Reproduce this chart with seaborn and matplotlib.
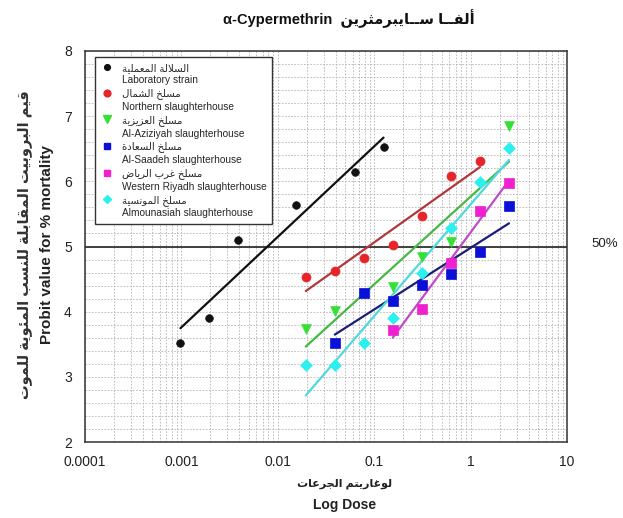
import numpy as np
import pandas as pd
import matplotlib
matplotlib.use("Agg")
import matplotlib.pyplot as plt
from matplotlib.lines import Line2D
from matplotlib.ticker import LogLocator, MultipleLocator, FixedLocator, NullFormatter
import seaborn as sns

# ---------------- data ----------------
lab_dose = [0.000977, 0.00195, 0.0039, 0.0156, 0.0625, 0.125]
lab_probit = [3.52, 3.90, 5.10, 5.64, 6.14, 6.53]

north_dose = [0.0195, 0.039, 0.078, 0.156, 0.3125, 0.625, 1.25]
north_probit = [4.53, 4.63, 4.83, 5.02, 5.47, 6.08, 6.31]

aziz_dose = [0.0195, 0.039, 0.156, 0.3125, 0.625, 2.5]
aziz_probit = [3.74, 4.01, 4.38, 4.84, 5.07, 6.85]

saad_dose = [0.039, 0.078, 0.156, 0.3125, 0.625, 1.25, 2.5]
saad_probit = [3.52, 4.29, 4.17, 4.41, 4.58, 4.92, 5.62]

west_dose = [0.156, 0.3125, 0.625, 1.25, 2.5]
west_probit = [3.72, 4.04, 4.75, 5.55, 5.98]

moun_dose = [0.0195, 0.039, 0.078, 0.156, 0.3125, 0.625, 1.25, 2.5]
moun_probit = [3.18, 3.18, 3.52, 3.90, 4.60, 5.29, 5.99, 6.51]

names_ar = ["السلالة المعملية", "مسلخ الشمال", "مسلخ العزيزية",
            "مسلخ السعادة", "مسلخ غرب الرياض", "مسلخ المونسية"]
names_en = ["Laboratory strain", "Northern slaughterhouse", "Al-Aziziyah slaughterhouse",
            "Al-Saadeh slaughterhouse", "Western Riyadh slaughterhouse",
            "Almounasiah slaughterhouse"]

x_ticks = [0.0001, 0.001, 0.01, 0.1, 1, 10]
x_tick_labels = ["0.0001", "0.001", "0.01", "0.1", "1", "10"]
y_ticks = [2, 3, 4, 5, 6, 7, 8]

title_en = "α-Cypermethrin"
title_ar = "ألفــا ســايبرمثرين"
ylabel_ar = "قيم البروبيت المقابلة للنسب المئوية للموت"
ylabel_en = "Probit value for % mortality"
xlabel_ar = "لوغاريتم الجرعات"
xlabel_en = "Log Dose"
ref_label = "50%"

# ---------------- simple Arabic shaping (presentation forms) ----------------
DUAL = {'ئ': 0xFE89, 'ب': 0xFE8F, 'ت': 0xFE95, 'ث': 0xFE99, 'ج': 0xFE9D, 'ح': 0xFEA1,
        'خ': 0xFEA5, 'س': 0xFEB1, 'ش': 0xFEB5, 'ص': 0xFEB9, 'ض': 0xFEBD, 'ط': 0xFEC1,
        'ظ': 0xFEC5, 'ع': 0xFEC9, 'غ': 0xFECD, 'ف': 0xFED1, 'ق': 0xFED5, 'ك': 0xFED9,
        'ل': 0xFEDD, 'م': 0xFEE1, 'ن': 0xFEE5, 'ه': 0xFEE9, 'ي': 0xFEF1}
RIGHT = {'آ': 0xFE81, 'أ': 0xFE83, 'ؤ': 0xFE85, 'إ': 0xFE87, 'ا': 0xFE8D, 'ة': 0xFE93,
         'د': 0xFEA9, 'ذ': 0xFEAB, 'ر': 0xFEAD, 'ز': 0xFEAF, 'و': 0xFEED, 'ى': 0xFEEF}
LAMALEF = {'آ': 0xFEF5, 'أ': 0xFEF7, 'إ': 0xFEF9, 'ا': 0xFEFB}
TATWEEL = 'ـ'


def _joins_next(t):
    return isinstance(t, str) and (t in DUAL or t == TATWEEL)


def _joins_prev(t):
    return isinstance(t, tuple) or (t in DUAL or t in RIGHT or t == TATWEEL)


def shape(text):
    toks = []
    i = 0
    while i < len(text):
        c = text[i]
        if c == 'ل' and i + 1 < len(text) and text[i + 1] in LAMALEF:
            toks.append(('LA', text[i + 1]))
            i += 2
        else:
            toks.append(c)
            i += 1
    out = []
    for k, t in enumerate(toks):
        prev = toks[k - 1] if k > 0 else None
        nxt = toks[k + 1] if k + 1 < len(toks) else None
        jp = prev is not None and _joins_next(prev)
        if isinstance(t, tuple):
            out.append(chr(LAMALEF[t[1]] + (1 if jp else 0)))
        elif t in DUAL:
            jn = nxt is not None and _joins_prev(nxt)
            off = 3 if (jp and jn) else 1 if jp else 2 if jn else 0
            out.append(chr(DUAL[t] + off))
        elif t in RIGHT:
            out.append(chr(RIGHT[t] + (1 if jp else 0)))
        else:
            out.append(t)
    return ''.join(out)[::-1]


# ---------------- style ----------------
sns.set_theme(style="white")
FAM = ['Liberation Sans', 'DejaVu Sans']
plt.rcParams['font.family'] = FAM

series = [
    (lab_dose, lab_probit, 'o', '#111111', '#111111', 5.5),
    (north_dose, north_probit, 'o', '#e8242b', '#b3363b', 6.5),
    (aziz_dose, aziz_probit, 'v', '#33e033', '#45b845', 7),
    (saad_dose, saad_probit, 's', '#0b10d8', '#1c1c7a', 6.5),
    (west_dose, west_probit, 's', '#f020d0', '#c04ac8', 6.5),
    (moun_dose, moun_probit, 'D', '#2cf0f0', '#50d8e0', 6),
]

fig = plt.figure(figsize=(6.23, 5.18), dpi=100)
ax = fig.add_axes([85 / 623, 1 - 442 / 518, (567 - 85) / 623, (442 - 51) / 518])
ax.set_xscale('log')

frames = []
for (d, p, m, mc, lc, ms), en in zip(series, names_en):
    frames.append(pd.DataFrame({'dose': d, 'probit': p, 'group': en}))
df = pd.concat(frames, ignore_index=True)

for (d, p, m, mc, lc, ms), en in zip(series, names_en):
    sub = df[df['group'] == en]
    sns.regplot(data=sub, x='dose', y='probit', logx=True, ci=None, scatter=False,
                truncate=True, ax=ax, line_kws=dict(color=lc, lw=1.6, zorder=3))
    sns.scatterplot(data=sub, x='dose', y='probit', marker=m, color=mc, s=ms ** 2,
                    edgecolor=mc, linewidth=0.5, ax=ax, legend=False, zorder=4)

ax.set_xlim(0.0001, 10)
ax.set_ylim(2, 8)
ax.xaxis.set_major_locator(FixedLocator(x_ticks))
ax.set_xticklabels(x_tick_labels)
ax.xaxis.set_minor_locator(LogLocator(base=10, subs=np.arange(2, 10)))
ax.xaxis.set_minor_formatter(NullFormatter())
ax.yaxis.set_major_locator(FixedLocator(y_ticks))
ax.yaxis.set_minor_locator(MultipleLocator(0.2))

ax.grid(which='both', color='#b4b4b4', linestyle=(0, (2, 1.8)), linewidth=0.6, zorder=0)
ax.set_axisbelow(True)
ax.axhline(5, color='#222222', lw=1.2, zorder=2)

for s in ax.spines.values():
    s.set_color('#333333')
    s.set_linewidth(1.1)
ax.tick_params(axis='both', which='major', direction='inout', length=7, width=1,
               labelsize=10, colors='#222222', pad=6)
ax.tick_params(axis='both', which='minor', direction='in', length=4, width=0.8,
               colors='#222222')
ax.set_xlabel('')
ax.set_ylabel('')

# title
fig.text(0.56, 1 - 19 / 518, title_en + "  " + shape(title_ar), ha='center', va='center',
         fontsize=10.5, fontweight='bold', family=FAM, color='#111111')

# axis labels
fig.text(345 / 623, 1 - 484 / 518, shape(xlabel_ar), ha='center', va='center',
         fontsize=8, fontweight='bold', family=FAM, color='#222222')
fig.text(345 / 623, 1 - 505 / 518, xlabel_en, ha='center', va='center',
         fontsize=10, fontweight='bold', family=FAM, color='#222222')
fig.text(25 / 623, 1 - 245 / 518, shape(ylabel_ar), ha='center', va='center',
         rotation=90, fontsize=10.5, fontweight='bold', family=FAM, color='#333333')
fig.text(47 / 623, 1 - 245 / 518, ylabel_en, ha='center', va='center',
         rotation=90, fontsize=11, fontweight='bold', family=FAM, color='#222222')

fig.text(605 / 623, 1 - 244 / 518, ref_label, ha='center', va='center',
         fontsize=9.5, family=FAM, color='#222222')

# legend: marker + Arabic name, then English name on its own row
handles, labels = [], []
for (d, p, m, mc, lc, ms), ar, en in zip(series, names_ar, names_en):
    handles.append(Line2D([], [], marker=m, color=mc, linestyle='none', markersize=ms * 0.75))
    labels.append(shape(ar))
    handles.append(Line2D([], [], linestyle='none', marker=None))
    labels.append(en)
leg = ax.legend(handles, labels, loc='upper left', bbox_to_anchor=(10 / 482, 1 - 6 / 391),
                prop={'family': FAM, 'size': 7.3}, frameon=True, fancybox=False,
                edgecolor='#333333', framealpha=1, labelspacing=0.28, handlelength=1.2,
                handletextpad=0.9, borderpad=0.55, borderaxespad=0)
leg.get_frame().set_linewidth(1.0)
leg.set_zorder(10)

fig.savefig('out.png', dpi=100, facecolor='white')
